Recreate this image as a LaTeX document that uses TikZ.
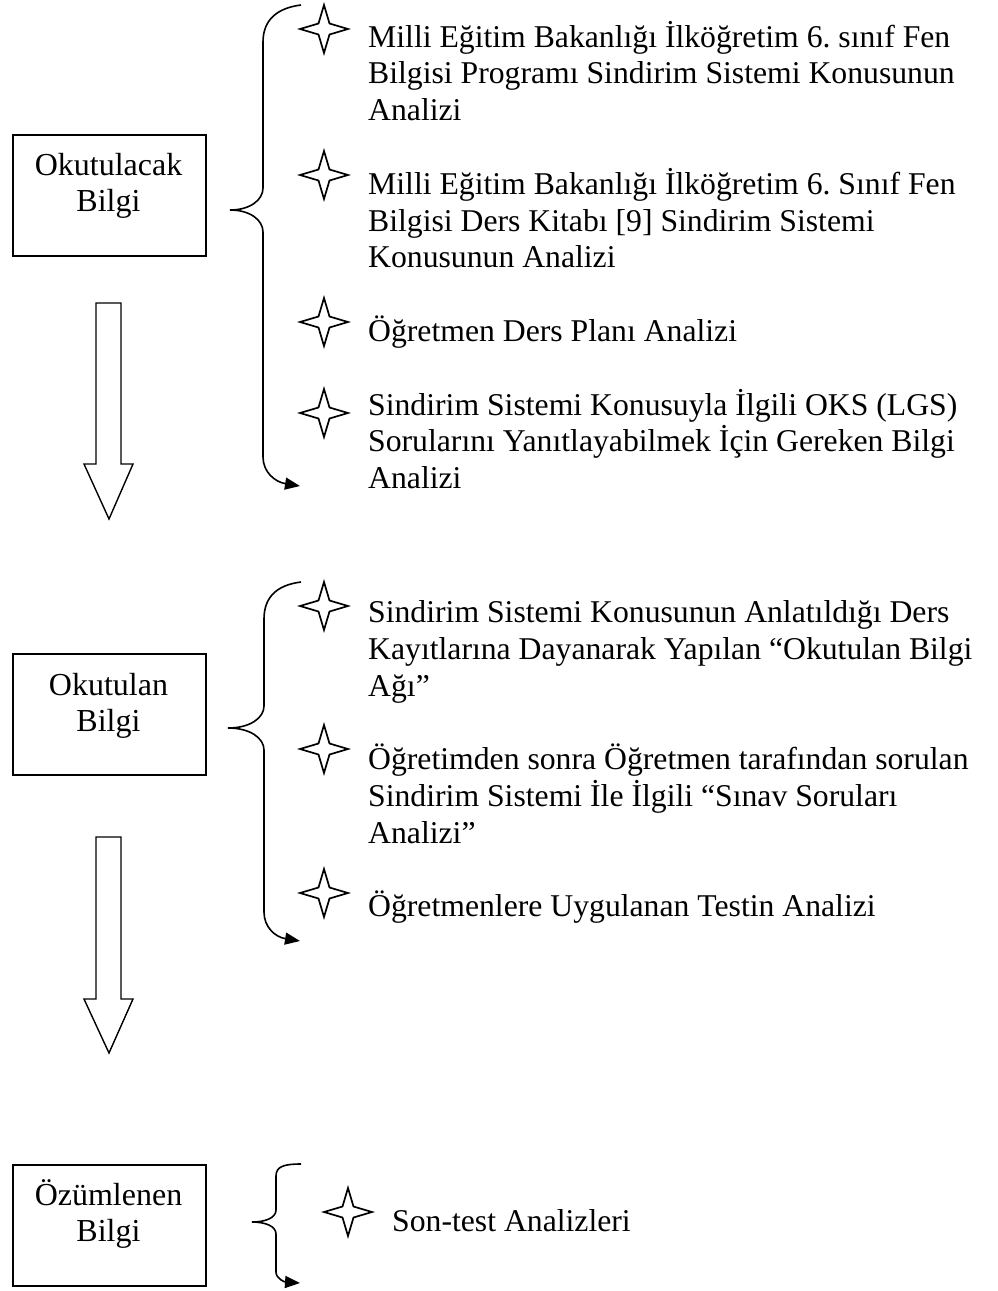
\documentclass[tikz,border=0pt]{standalone}
\usepackage{fontspec}
\setmainfont{Liberation Serif}
\usetikzlibrary{arrows.meta}
\frenchspacing
\begin{document}
\begin{tikzpicture}[x=1pt,y=-1pt,
  box/.style={draw,line width=1.8pt,minimum width=193pt,minimum height=121pt,anchor=north west,inner sep=0pt},
  boxtext/.style={align=center,inner sep=0pt,anchor=base},
  item/.style={align=left,inner sep=0pt,anchor=base west,font=\fontsize{31.7}{36.8}\selectfont\frenchspacing},
  bracestyle/.style={line width=1.6pt,-{Triangle[length=15pt,width=12pt]}},
  blockarrow/.style={draw,line width=1.4pt,fill=white},
  fourstar/.pic={\draw[line width=1.7pt,line join=miter,miter limit=20]
     (0,-24) -- (5.5,-5.5) -- (24,0) -- (5.5,5.5) -- (0,24) -- (-5.5,5.5) -- (-24,0) -- (-5.5,-5.5) -- cycle;}
]
\useasboundingbox (0,0) rectangle (997,1291);
\fontsize{32}{36}\selectfont

% boxes
\node[box] (b1) at (12,134) {};
\node[boxtext] (t1a) at (108.5,175) {Okutulacak};
\node[boxtext] (t1b) at (108.5,211) {Bilgi};
\node[box] (b2) at (12,653) {};
\node[boxtext] (t2a) at (108.5,695) {Okutulan};
\node[boxtext] (t2b) at (108.5,731) {Bilgi};
\node[box] (b3) at (12,1164) {};
\node[boxtext] (t3a) at (108.5,1205) {Özümlenen};
\node[boxtext] (t3b) at (108.5,1241) {Bilgi};

% block arrows
\draw[blockarrow] (96,303) -- (121,303) -- (121,464) -- (133,464) -- (109,519) -- (84,464) -- (96,464) -- cycle;
\draw[blockarrow] (96,837) -- (121,837) -- (121,999) -- (133,999) -- (109,1053) -- (84,999) -- (96,999) -- cycle;

% braces
\coordinate (br1top) at (301,5);
\coordinate (br1end) at (300,486);
\draw[bracestyle] (br1top) .. controls (277,8) and (263,20) .. (263,42) -- (263,188)
  .. controls (263,200) and (250,210) .. (230,210)
  .. controls (250,210) and (263,220) .. (263,232) -- (263,457)
  .. controls (263,472) and (275,482) .. (br1end);

\coordinate (br2top) at (301,582);
\coordinate (br2end) at (300,941);
\draw[bracestyle] (br2top) .. controls (277,585) and (264,597) .. (264,619) -- (264,706)
  .. controls (264,718) and (250,728) .. (228,728)
  .. controls (250,728) and (264,738) .. (264,750) -- (264,912)
  .. controls (264,927) and (275,937) .. (br2end);

\coordinate (br3top) at (301,1164);
\coordinate (br3end) at (300,1283);
\draw[bracestyle] (br3top) .. controls (285,1164) and (276,1166) .. (276,1176) -- (276,1210)
  .. controls (276,1218) and (265,1222) .. (252,1222)
  .. controls (265,1222) and (276,1226) .. (276,1234) -- (276,1272)
  .. controls (276,1279) and (285,1282) .. (br3end);

% stars
\pic (s11) at (324,29) {fourstar};
\pic (s12) at (324,175) {fourstar};
\pic (s13) at (324,322) {fourstar};
\pic (s14) at (324,413) {fourstar};
\pic (s21) at (324,606) {fourstar};
\pic (s22) at (324,749) {fourstar};
\pic (s23) at (324,893) {fourstar};
\pic (s31) at (348,1212) {fourstar};

% items (anchor = baseline of last line)
\node[item] (i11) at (368,120.6) {Milli Eğitim Bakanlığı İlköğretim 6. sınıf Fen\\Bilgisi Programı Sindirim Sistemi Konusunun\\Analizi};
\node[item] (i12) at (368,267.8) {Milli Eğitim Bakanlığı İlköğretim 6. Sınıf Fen\\Bilgisi Ders Kitabı [9] Sindirim Sistemi\\Konusunun Analizi};
\node[item] (i13) at (368,341.4) {Öğretmen Ders Planı Analizi};
\node[item] (i14) at (368,488.6) {Sindirim Sistemi Konusuyla İlgili OKS (LGS)\\Sorularını Yanıtlayabilmek İçin Gereken Bilgi\\Analizi};
\node[item] (i21) at (368,696.1) {Sindirim Sistemi Konusunun Anlatıldığı Ders\\Kayıtlarına Dayanarak Yapılan “Okutulan Bilgi\\Ağı”};
\node[item] (i22) at (368,843.3) {Öğretimden sonra Öğretmen tarafından sorulan\\Sindirim Sistemi İle İlgili “Sınav Soruları\\Analizi”};
\node[item] (i23) at (368,916.9) {Öğretmenlere Uygulanan Testin Analizi};
\node[item] (i31) at (392,1231) {Son-test Analizleri};
\end{tikzpicture}
\end{document}
